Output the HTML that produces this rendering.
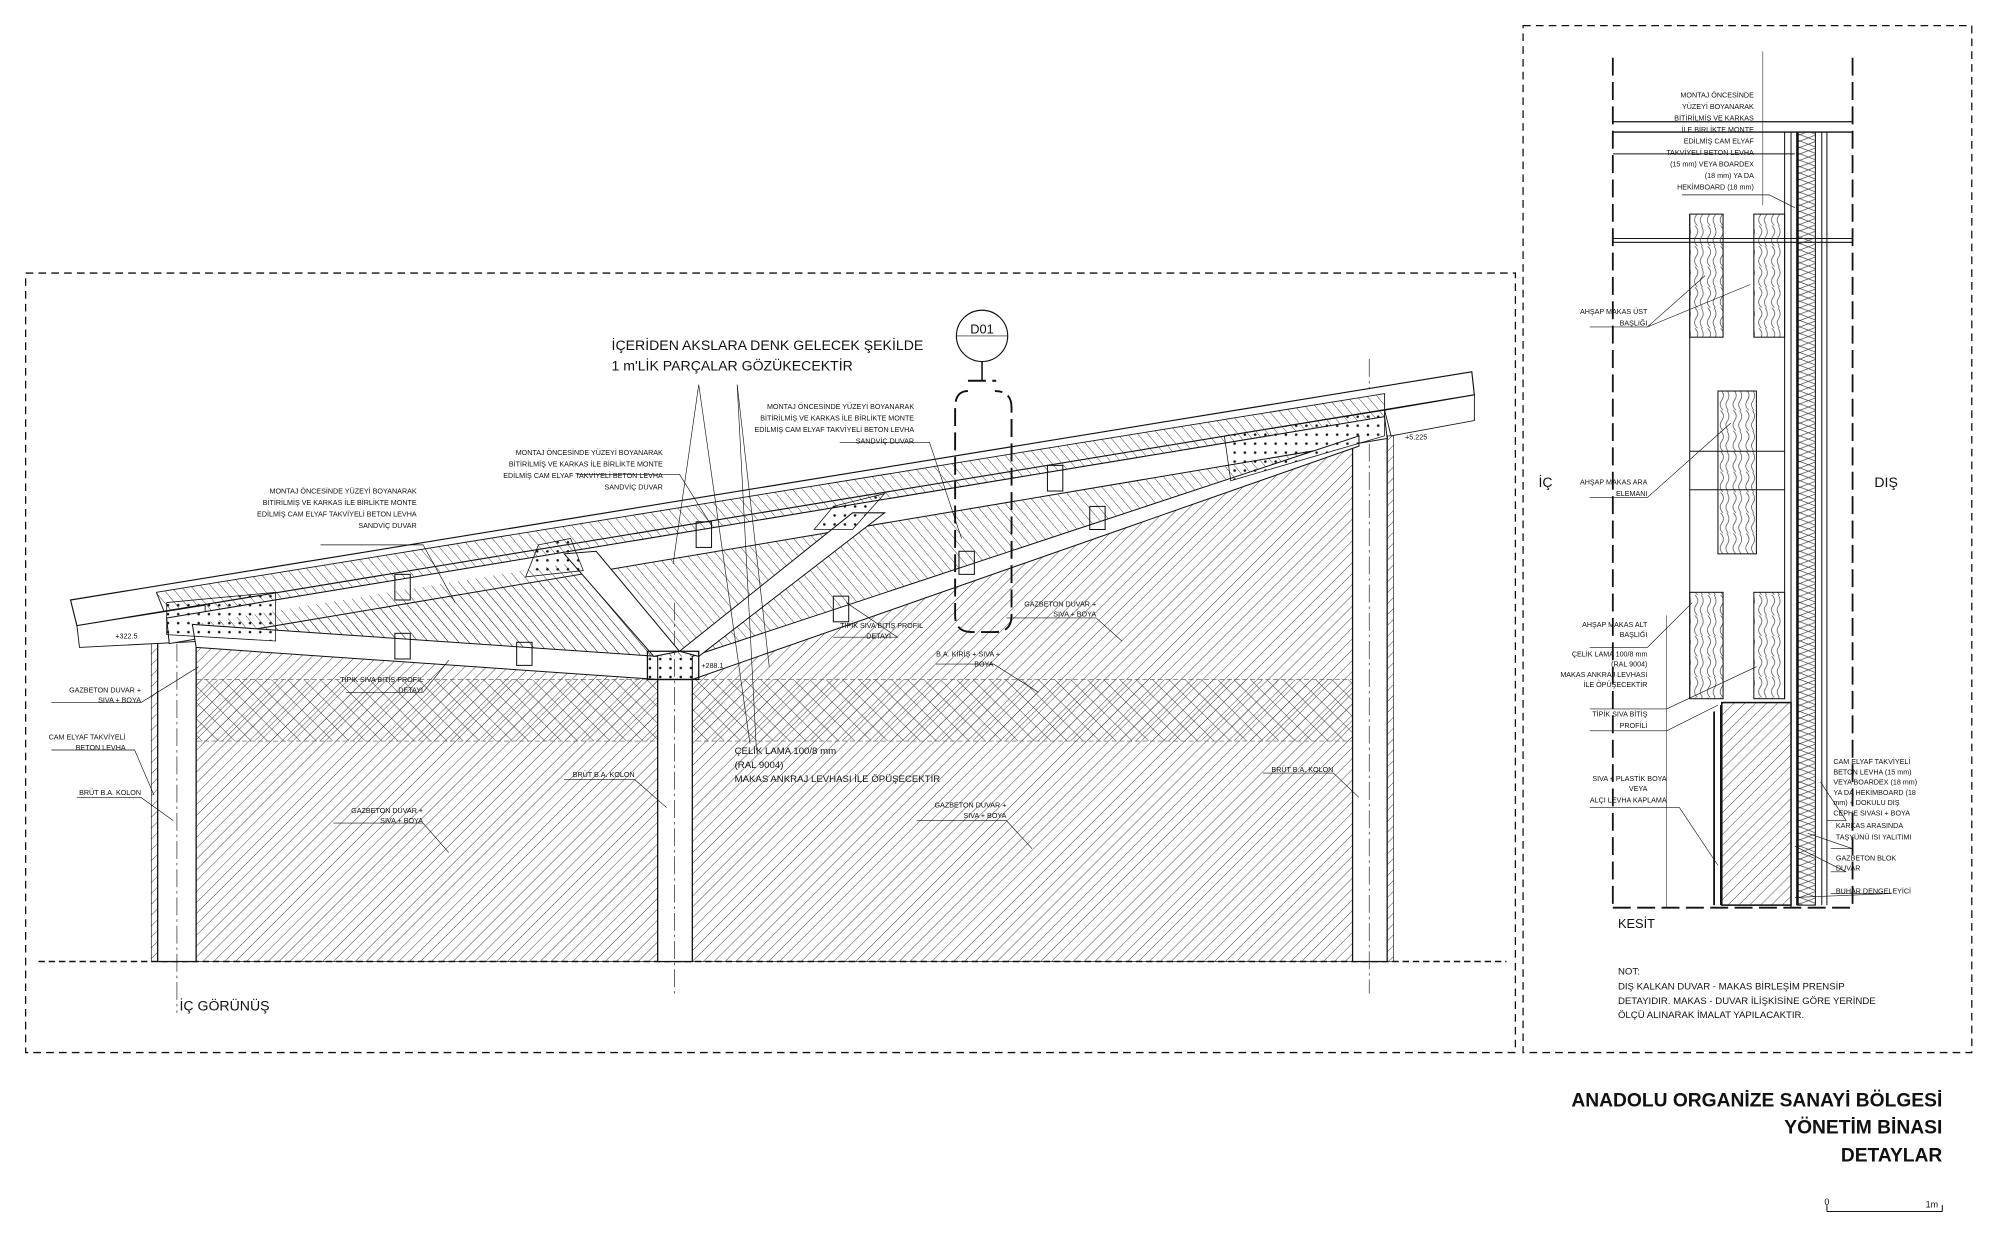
<!DOCTYPE html>
<html><head><meta charset="utf-8"><style>
html,body{margin:0;padding:0;background:#fff}
svg{display:block}
text{font-family:"Liberation Sans",sans-serif;fill:#111}
.s{font-size:5.6px}
.m{font-size:11px}
.t{font-size:15px;font-weight:bold}
</style></head><body>
<svg width="2000" height="1235" viewBox="0 0 1560 963.3" xmlns="http://www.w3.org/2000/svg">
<defs>
<pattern id="h1" width="6" height="6" patternUnits="userSpaceOnUse" patternTransform="rotate(45)"><line x1="0" y1="0" x2="0" y2="6" stroke="#333" stroke-width="0.7"/></pattern>
<pattern id="h2" width="6" height="6" patternUnits="userSpaceOnUse" patternTransform="rotate(-40)"><line x1="0" y1="0" x2="0" y2="6" stroke="#333" stroke-width="0.7"/></pattern>
<pattern id="hx" width="9" height="9" patternUnits="userSpaceOnUse" patternTransform="rotate(45)"><line x1="0" y1="0" x2="0" y2="9" stroke="#333" stroke-width="0.7"/><line x1="0" y1="0" x2="9" y2="0" stroke="#333" stroke-width="0.7"/></pattern>
<pattern id="wood" width="10" height="16" patternUnits="userSpaceOnUse"><path d="M2 0 Q6 4 3 8 Q0 12 4 16 M7 0 Q10 5 7 9 Q5 12 8 16" fill="none" stroke="#333" stroke-width="0.5"/></pattern>
<pattern id="ins" width="13" height="10" patternUnits="userSpaceOnUse"><path d="M0 0 L13 5 L0 10 M13 0 L0 5 L13 10" fill="none" stroke="#333" stroke-width="0.5"/></pattern>
<pattern id="dots" width="8" height="7" patternUnits="userSpaceOnUse"><circle cx="3" cy="3" r="1" fill="#111"/></pattern>
</defs>
<g fill="none" stroke="#111">
<rect x="20" y="213" width="1162" height="608" stroke-dasharray="6,4" stroke-width="1"/>
<rect x="1188" y="20" width="350" height="801" stroke-dasharray="6,4" stroke-width="1"/>
<line x1="30" y1="750" x2="1175" y2="750" stroke-dasharray="5,3" stroke-width="1.2"/>

<polygon points="153,503 513,530 513,750 153,750" fill="url(#h1)" stroke-width="0.6"/>
<polygon points="540,530 1055,340 1055,750 540,750" fill="url(#h1)" stroke-width="0.6"/>
<polygon points="153,530 1055,530 1055,578 153,578" fill="url(#hx)" stroke="#555" stroke-dasharray="4,2" stroke-width="0.5"/>
<rect x="123" y="468" width="30" height="282" fill="#fff"/>
<rect x="118" y="468" width="5" height="282" fill="url(#h1)" stroke-width="0.5"/>
<rect x="513" y="530" width="27" height="220" fill="#fff"/>
<rect x="1055" y="340" width="27" height="410" fill="#fff"/>
<rect x="1082" y="340" width="5" height="410" fill="url(#h1)" stroke-width="0.5"/>
<line x1="138" y1="458" x2="138" y2="790" stroke-dasharray="14,3,2,3" stroke-width="0.5"/>
<line x1="526" y1="470" x2="526" y2="775" stroke-dasharray="14,3,2,3" stroke-width="0.5"/>
<line x1="1068" y1="280" x2="1068" y2="775" stroke-dasharray="14,3,2,3" stroke-width="0.5"/>

<polygon points="130,482 1080,325 1080,340 540,512 513,512 150,487" fill="url(#h2)" stroke="none"/>
<polygon points="55,468 1148,290 1150,308 60,488" fill="#fff" stroke-width="0.9"/>
<polygon points="122,462 1080,307 1080,325 130,482" fill="url(#h2)" stroke-width="0.7"/>
<polygon points="60,488 160,472 160,500 62,505" fill="#fff" stroke-width="0.7"/>
<polygon points="1080,320 1150,308 1150,328 1085,340" fill="#fff" stroke-width="0.7"/>
<polygon points="130,482 1080,325 1082,342 132,502" fill="#fff" stroke-width="0.8"/>
<polygon points="150,487 440,440 540,512 510,512" fill="url(#h2)" stroke="none"/>
<polygon points="150,487 513,512 513,530 153,505" fill="#fff" stroke-width="0.8"/>
<polygon points="540,512 1060,340 1060,348 540,530" fill="#fff" stroke-width="0.8"/>
<polygon points="440,432 465,430 530,508 510,512" fill="#fff" stroke-width="0.8"/>
<polygon points="530,508 665,400 690,400 545,512" fill="#fff" stroke-width="0.8"/>
<rect x="505" y="508" width="40" height="22" fill="url(#dots)" stroke-width="1"/>
<polygon points="130,470 215,462 215,500 130,495" fill="url(#dots)" stroke-width="0.6"/>
<polygon points="955,340 1080,320 1080,340 960,375" fill="url(#dots)" stroke-width="0.6"/>
<polygon points="420,425 445,420 455,445 410,450" fill="url(#dots)" stroke-width="0.6"/>
<polygon points="650,395 690,385 665,413 635,413" fill="url(#dots)" stroke-width="0.6"/>
<rect x="308" y="448" width="12" height="20" stroke-width="0.8"/>
<rect x="308" y="494" width="12" height="20" stroke-width="0.8"/>
<rect x="403" y="501" width="12" height="18" stroke-width="0.8"/>
<rect x="543" y="407" width="12" height="20" stroke-width="0.8"/>
<rect x="650" y="465" width="12" height="20" stroke-width="0.8"/>
<rect x="748" y="430" width="12" height="18" stroke-width="0.8"/>
<rect x="817" y="363" width="12" height="20" stroke-width="0.8"/>
<rect x="850" y="395" width="12" height="18" stroke-width="0.8"/>
<circle cx="766" cy="262" r="20" stroke-width="0.9"/>
<line x1="746" y1="262" x2="786" y2="262" stroke-width="0.5"/>
<line x1="766" y1="282" x2="766" y2="297" stroke-width="1.2"/>
<path d="M755 297 H777 M755 305 Q745 305 745 318 V480 Q745 493 758 493 H776 Q789 493 789 480 V318 Q789 305 776 305" stroke-width="1.5" stroke-dasharray="14,5"/>
<g stroke-width="0.5">
<line x1="545" y1="300" x2="525" y2="440"/><line x1="575" y1="300" x2="600" y2="520"/>
<line x1="545" y1="300" x2="585" y2="580"/><line x1="575" y1="300" x2="590" y2="585"/>
<path d="M250 425 H330 L355 470"/><path d="M450 370 H530 L555 410"/>
<path d="M655 345 H725 L750 420"/><path d="M40 548 H110 L155 520"/>
<path d="M40 585 H105 L120 620"/><path d="M60 622 H110 L135 640"/>
<path d="M260 642 H330 L350 665"/><path d="M440 608 H495 L520 630"/>
<path d="M715 640 H785 L805 662"/><path d="M785 482 H855 L875 500"/>
<path d="M730 518 H775 L810 540"/><path d="M650 497 H700 L660 470"/>
<path d="M270 540 H330 L350 515"/><path d="M985 603 H1040 L1060 622"/>
</g>

<g stroke-width="0.8">
<line x1="1258" y1="45" x2="1258" y2="708" stroke-dasharray="14,5" stroke-width="1.4"/>
<line x1="1445" y1="45" x2="1445" y2="708" stroke-dasharray="14,5" stroke-width="1.4"/>
<line x1="1258" y1="708" x2="1445" y2="708" stroke-dasharray="14,5" stroke-width="1.4"/>
<line x1="1258" y1="95" x2="1445" y2="95" stroke-width="1"/>
<line x1="1258" y1="103" x2="1445" y2="103" stroke-width="1"/>
<line x1="1258" y1="120" x2="1400" y2="120"/>
<line x1="1258" y1="186" x2="1445" y2="186"/><line x1="1258" y1="189" x2="1445" y2="189"/>
<line x1="1375" y1="40" x2="1375" y2="160" stroke-width="0.4"/>
<line x1="1318" y1="167" x2="1318" y2="545"/>
<line x1="1392" y1="103" x2="1392" y2="545"/>
<line x1="1397" y1="103" x2="1397" y2="708"/>
<rect x="1402" y="103" width="14" height="603" fill="url(#ins)"/>
<line x1="1402" y1="103" x2="1402" y2="706" stroke-width="2"/>
<line x1="1421" y1="103" x2="1421" y2="706"/><line x1="1425" y1="103" x2="1425" y2="706"/>
<rect x="1318" y="167" width="26" height="96" fill="url(#wood)"/>
<rect x="1368" y="167" width="24" height="96" fill="url(#wood)"/>
<rect x="1340" y="305" width="30" height="127" fill="url(#wood)"/>
<rect x="1318" y="462" width="26" height="83" fill="url(#wood)"/>
<rect x="1368" y="462" width="24" height="83" fill="url(#wood)"/>
<line x1="1318" y1="352" x2="1392" y2="352"/><line x1="1318" y1="382" x2="1392" y2="382"/>
<rect x="1343" y="548" width="54" height="158" fill="url(#h1)" stroke-width="1.2"/>
<line x1="1337" y1="555" x2="1337" y2="706" stroke-width="1.4"/>
<line x1="1342" y1="550" x2="1342" y2="706"/>
<line x1="1300" y1="480" x2="1300" y2="708" stroke-width="0.4"/>
</g>
<g stroke-width="0.5">
<path d="M1240 255 H1285 L1330 215 M1285 255 L1365 222"/>
<path d="M1240 388 H1285 L1350 330"/>
<path d="M1240 505 H1285 L1320 470"/>
<path d="M1240 553 H1300 L1370 520"/>
<path d="M1240 570 H1300 L1340 550"/>
<path d="M1240 630 H1310 L1340 675"/>
<path d="M1312 152 H1380 L1400 162"/>
<path d="M1425 640 H1440 L1420 610"/>
<path d="M1428 662 H1445 L1410 650"/>
<path d="M1428 680 H1440 L1400 660"/>
<path d="M1428 697 H1475 L1400 700"/>
</g>
<path d="M1425 945 H1515 M1425 940 V945 M1515 940 V945" stroke-width="0.8"/>
</g>

<text class="m" x="477" y="273">İÇERİDEN AKSLARA DENK GELECEK ŞEKİLDE</text>
<text class="m" x="477" y="289">1 m'LİK PARÇALAR GÖZÜKECEKTİR</text>
<text x="766" y="262" class="s" style="font-size:10px" text-anchor="middle" dy="-2">D01</text>
<g class="s" text-anchor="end">
<text x="713" y="319">MONTAJ ÖNCESİNDE YÜZEYİ BOYANARAK</text>
<text x="713" y="328">BİTİRİLMİŞ VE KARKAS İLE BİRLİKTE MONTE</text>
<text x="713" y="337">EDİLMİŞ CAM ELYAF TAKVİYELİ BETON LEVHA</text>
<text x="713" y="346">SANDVİÇ DUVAR</text>
<text x="517" y="355">MONTAJ ÖNCESİNDE YÜZEYİ BOYANARAK</text>
<text x="517" y="364">BİTİRİLMİŞ VE KARKAS İLE BİRLİKTE MONTE</text>
<text x="517" y="373">EDİLMİŞ CAM ELYAF TAKVİYELİ BETON LEVHA</text>
<text x="517" y="382">SANDVİÇ DUVAR</text>
<text x="325" y="385">MONTAJ ÖNCESİNDE YÜZEYİ BOYANARAK</text>
<text x="325" y="394">BİTİRİLMİŞ VE KARKAS İLE BİRLİKTE MONTE</text>
<text x="325" y="403">EDİLMİŞ CAM ELYAF TAKVİYELİ BETON LEVHA</text>
<text x="325" y="412">SANDVİÇ DUVAR</text>
<text x="110" y="540">GAZBETON DUVAR +</text><text x="110" y="548">SIVA + BOYA</text>
<text x="98" y="577">CAM ELYAF TAKVİYELİ</text><text x="98" y="585">BETON LEVHA</text>
<text x="110" y="620">BRÜT B.A. KOLON</text>
<text x="330" y="540">DETAYI</text>
<text x="330" y="532">TİPİK SIVA BİTİŞ PROFİL</text>
<text x="330" y="634">GAZBETON DUVAR +</text><text x="330" y="642">SIVA + BOYA</text>
<text x="495" y="606">BRÜT B.A. KOLON</text>
<text x="720" y="490">TİPİK SIVA BİTİŞ PROFİL</text><text x="695" y="498">DETAYI</text>
<text x="780" y="512">B.A. KİRİŞ + SIVA +</text><text x="775" y="520">BOYA</text>
<text x="855" y="473">GAZBETON DUVAR +</text><text x="855" y="481">SIVA + BOYA</text>
<text x="785" y="630">GAZBETON DUVAR +</text><text x="785" y="638">SIVA + BOYA</text>
<text x="1040" y="602">BRÜT B.A. KOLON</text>
</g>
<text class="s" x="90" y="498">+322.5</text>
<text class="s" x="547" y="521">+288.1</text>
<text class="s" x="1096" y="343">+5.225</text>
<g style="font-size:7.5px">
<text x="573" y="588">ÇELİK LAMA 100/8 mm</text>
<text x="573" y="599">(RAL 9004)</text>
<text x="573" y="610">MAKAS ANKRAJ LEVHASI İLE ÖPÜŞECEKTİR</text>
</g>
<text x="140" y="788" style="font-size:11px">İÇ GÖRÜNÜŞ</text>

<g class="s" text-anchor="end">
<text x="1368" y="76">MONTAJ ÖNCESİNDE</text><text x="1368" y="85">YÜZEYİ BOYANARAK</text>
<text x="1368" y="94">BİTİRİLMİŞ VE KARKAS</text><text x="1368" y="103">İLE BİRLİKTE MONTE</text>
<text x="1368" y="112">EDİLMİŞ CAM ELYAF</text><text x="1368" y="121">TAKVİYELİ BETON LEVHA</text>
<text x="1368" y="130">(15 mm) VEYA BOARDEX</text><text x="1368" y="139">(18 mm) YA DA</text>
<text x="1368" y="148">HEKİMBOARD (18 mm)</text>
<text x="1285" y="245">AHŞAP MAKAS ÜST</text><text x="1285" y="254">BAŞLIĞI</text>
<text x="1285" y="378">AHŞAP MAKAS ARA</text><text x="1285" y="387">ELEMANI</text>
<text x="1285" y="489">AHŞAP MAKAS ALT</text><text x="1285" y="497">BAŞLIĞI</text>
<text x="1285" y="512">ÇELİK LAMA 100/8 mm</text><text x="1285" y="520">(RAL 9004)</text>
<text x="1285" y="528">MAKAS ANKRAJ LEVHASI</text><text x="1285" y="536">İLE ÖPÜŞECEKTİR</text>
<text x="1285" y="559">TİPİK SIVA BİTİŞ</text><text x="1285" y="568">PROFİLİ</text>
<text x="1300" y="609">SIVA + PLASTİK BOYA</text><text x="1285" y="617">VEYA</text>
<text x="1300" y="626">ALÇI LEVHA KAPLAMA</text>
</g>
<g class="s">
<text x="1430" y="596">CAM ELYAF TAKVİYELİ</text><text x="1430" y="604">BETON LEVHA (15 mm)</text>
<text x="1430" y="612">VEYA BOARDEX (18 mm)</text><text x="1430" y="620">YA DA HEKİMBOARD (18</text>
<text x="1430" y="628">mm) + DOKULU DIŞ</text><text x="1430" y="636">CEPHE SIVASI + BOYA</text>
<text x="1432" y="646">KARKAS ARASINDA</text><text x="1432" y="655">TAŞYÜNÜ ISI YALITIMI</text>
<text x="1432" y="671">GAZBETON BLOK</text><text x="1432" y="679">DUVAR</text>
<text x="1432" y="697">BUHAR DENGELEYİCİ</text>
</g>
<text x="1200" y="380" style="font-size:11px">İÇ</text>
<text x="1462" y="380" style="font-size:11px">DIŞ</text>
<text x="1262" y="724" style="font-size:10px">KESİT</text>
<g style="font-size:7.5px">
<text x="1262" y="760">NOT:</text>
<text x="1262" y="772">DIŞ KALKAN DUVAR - MAKAS BİRLEŞİM PRENSİP</text>
<text x="1262" y="783">DETAYIDIR. MAKAS - DUVAR İLİŞKİSİNE GÖRE YERİNDE</text>
<text x="1262" y="794">ÖLÇÜ ALINARAK İMALAT YAPILACAKTIR.</text>
</g>
<g class="t" text-anchor="end">
<text x="1515" y="863">ANADOLU ORGANİZE SANAYİ BÖLGESİ</text>
<text x="1515" y="884">YÖNETİM BİNASI</text>
<text x="1515" y="906">DETAYLAR</text>
</g>
<text x="1423" y="940" style="font-size:7px">0</text>
<text x="1502" y="942" style="font-size:7px">1m</text>
</svg>
</body></html>
